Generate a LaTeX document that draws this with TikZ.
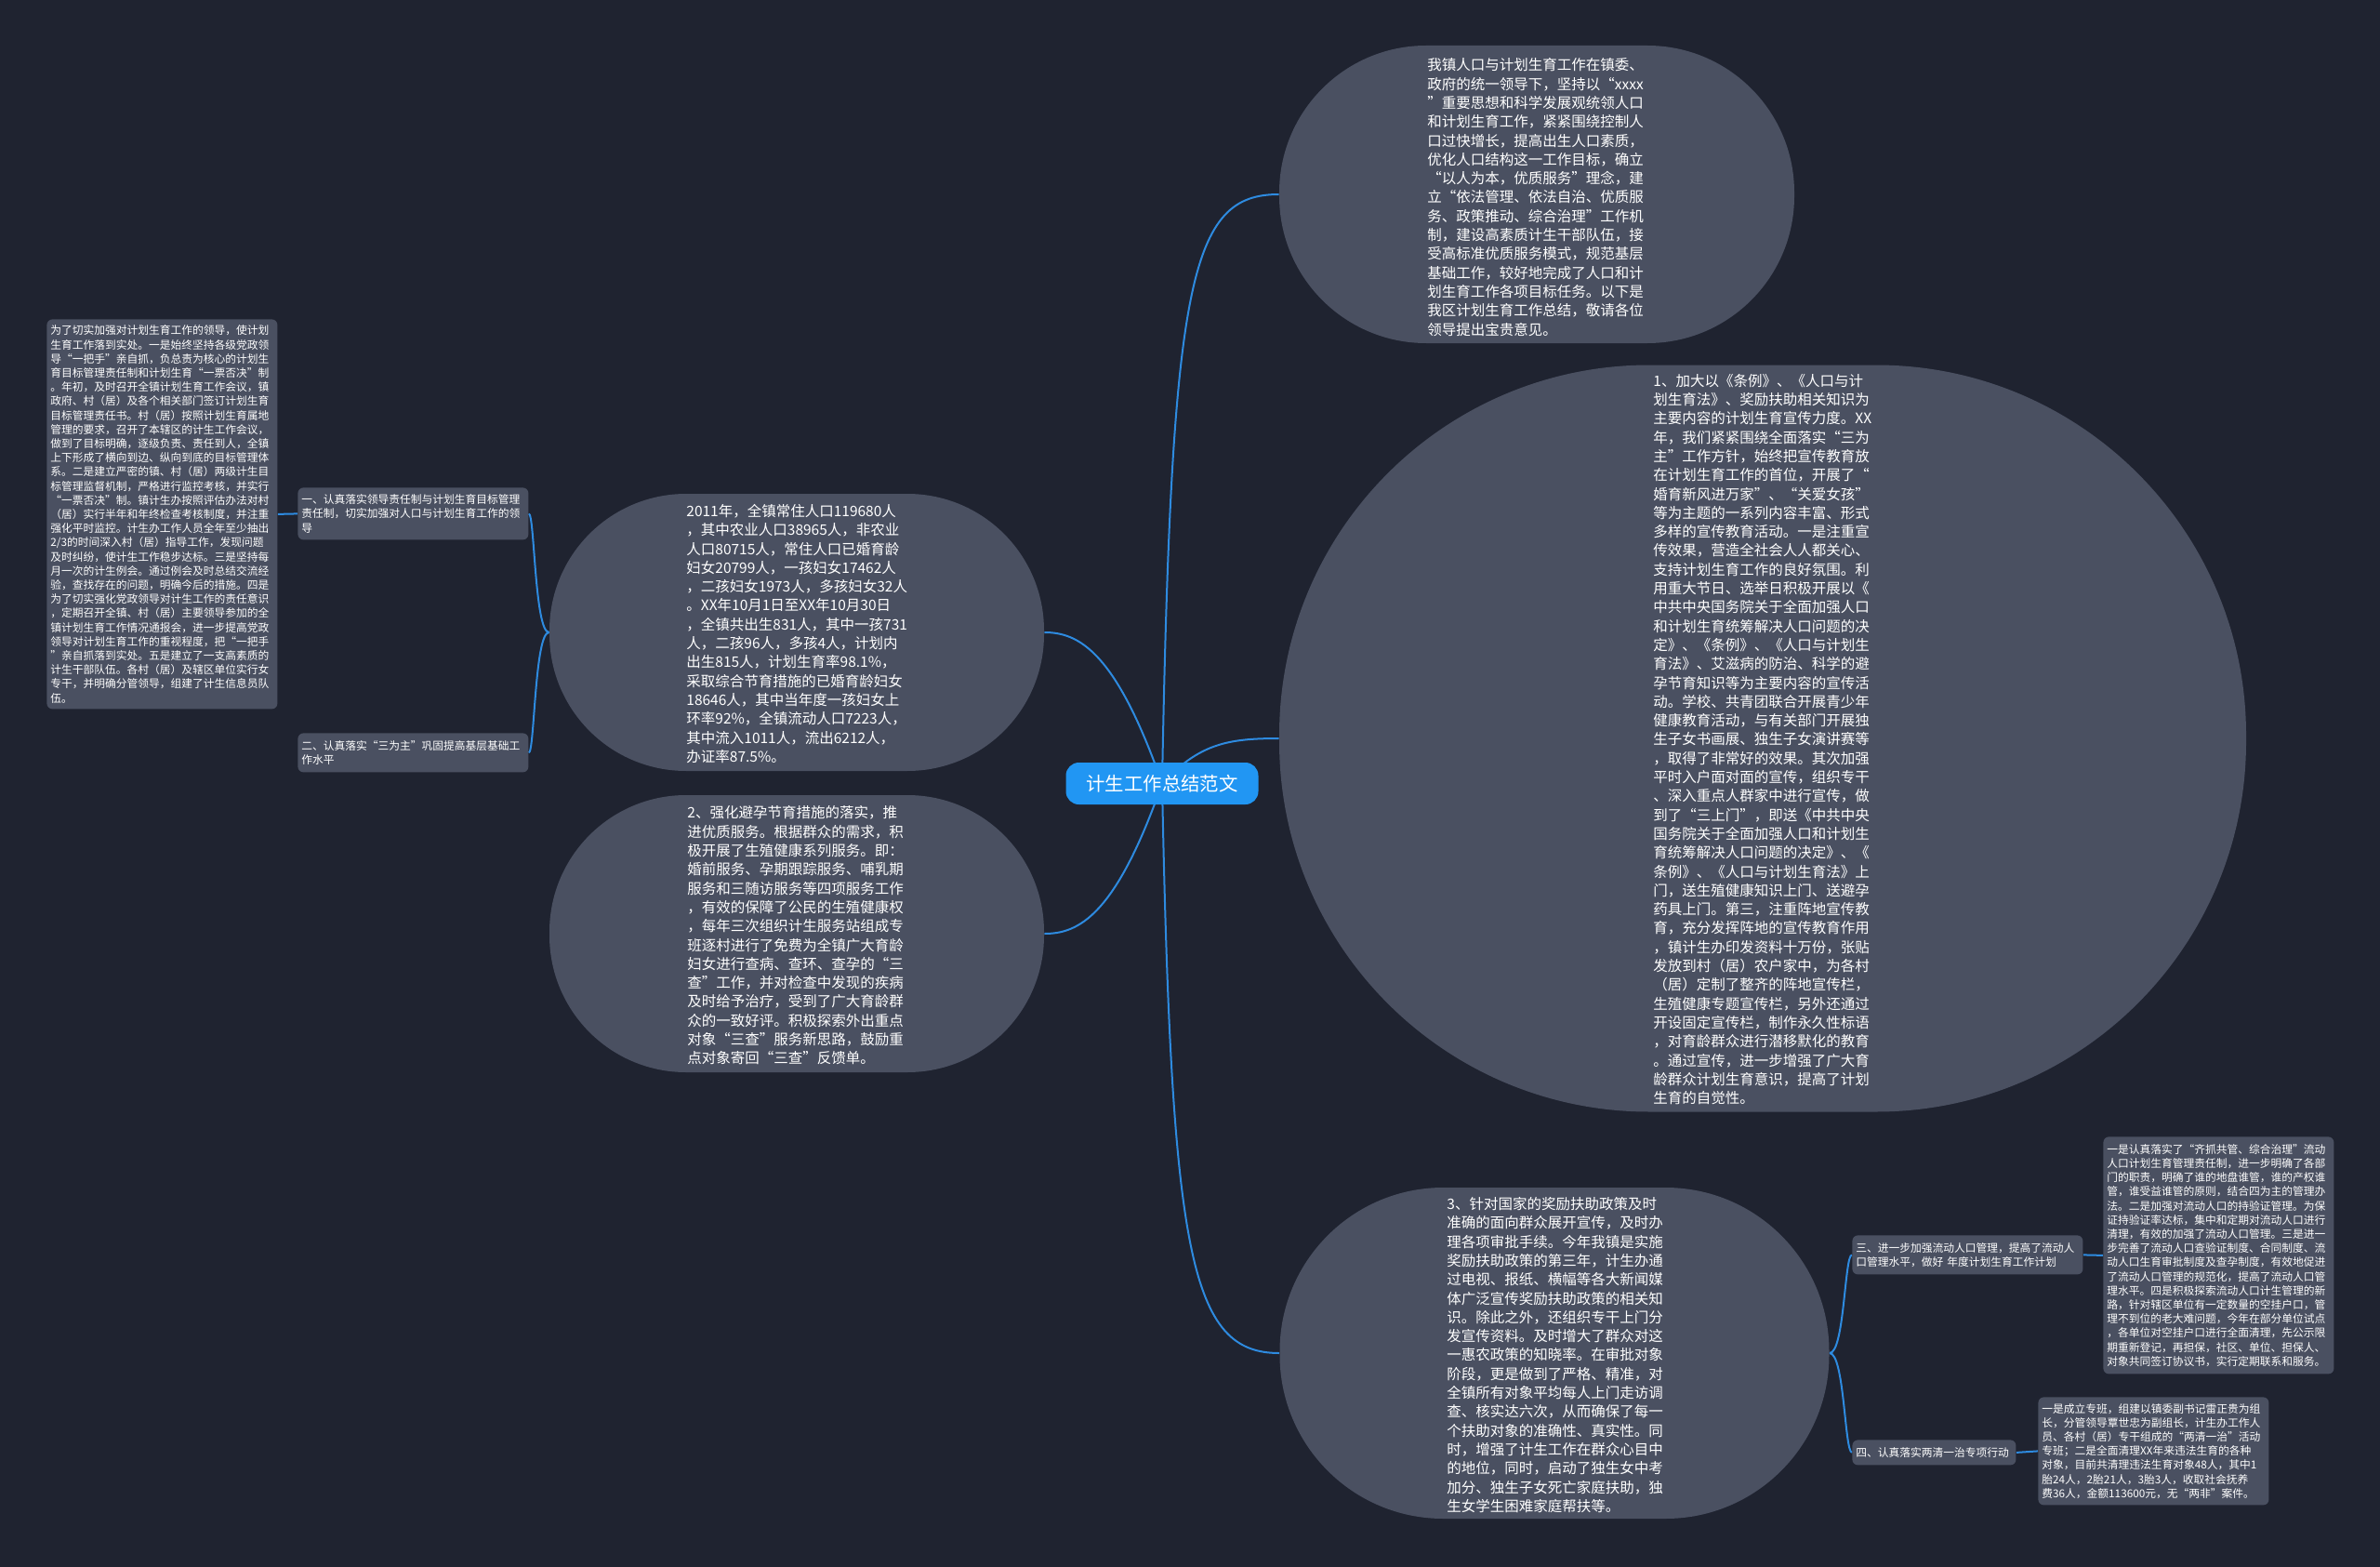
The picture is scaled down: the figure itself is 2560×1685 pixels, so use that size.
\documentclass[tikz,border=0pt]{standalone}
\usepackage{fontspec}
\setmainfont{Noto Sans CJK SC}
\definecolor{bgc}{HTML}{1F2330}
\definecolor{nodec}{HTML}{4A5061}
\definecolor{linec}{HTML}{2E8BE0}
\definecolor{centc}{HTML}{2196F3}
\pgfdeclarelayer{bglayer}
\pgfdeclarelayer{edgelayer}
\pgfsetlayers{bglayer,edgelayer,main}
\tikzset{
  bubble/.style={rectangle, fill=nodec, draw=none, inner sep=0pt},
  bigtext/.style={text=white, align=left, inner sep=0pt, font=\fontsize{7.75pt}{10.15pt}\selectfont},
  smallbox/.style={rectangle, rounded corners=3pt, fill=nodec, text=white, align=left, inner xsep=2pt, inner ysep=1pt, font=\fontsize{5.875pt}{7.6pt}\selectfont, text width=120pt},
  centre/.style={rectangle, rounded corners=7pt, fill=centc, text=white, inner sep=0pt, minimum width=103.5pt, minimum height=22.5pt, font=\fontsize{10.2pt}{12pt}\selectfont},
  link/.style={draw=linec, line width=1pt},
}
\begin{document}
\begin{tikzpicture}[x=0.5pt,y=-0.5pt]
\begin{pgfonlayer}{bglayer}
\fill[bgc] (0,0) rectangle (2560,1685);
\end{pgfonlayer}
\useasboundingbox (0,0) rectangle (2560,1685);

\node[centre] (root) at (1250,842.5) {计生工作总结范文};

% bubbles
\node[bubble, rounded corners=79pt, minimum width=277pt, minimum height=160pt] (introbub) at (1653,209) {};
\node[bubble, rounded corners=199pt, minimum width=520pt, minimum height=401.5pt] (bigbub) at (1896,794) {};
\node[bubble, rounded corners=73.5pt, minimum width=266pt, minimum height=149pt] (statsbub) at (857,680) {};
\node[bubble, rounded corners=73.5pt, minimum width=266pt, minimum height=149pt] (avoidbub) at (857,1004) {};
\node[bubble, rounded corners=88pt, minimum width=295.5pt, minimum height=178pt] (subbub) at (1672,1455) {};

\node[bigtext, anchor=west] (intro) at (1535,212) {我镇人口与计划生育工作在镇委、\\政府的统一领导下，坚持以“xxxx\\”重要思想和科学发展观统领人口\\和计划生育工作，紧紧围绕控制人\\口过快增长，提高出生人口素质，\\优化人口结构这一工作目标，确立\\“以人为本，优质服务”理念，建\\立“依法管理、依法自治、优质服\\务、政策推动、综合治理”工作机\\制，建设高素质计生干部队伍，接\\受高标准优质服务模式，规范基层\\基础工作，较好地完成了人口和计\\划生育工作各项目标任务。以下是\\我区计划生育工作总结，敬请各位\\领导提出宝贵意见。};

\node[bigtext, anchor=west] (big) at (1778,795) {1、加大以《条例》、《人口与计\\划生育法》、奖励扶助相关知识为\\主要内容的计划生育宣传力度。XX\\年，我们紧紧围绕全面落实“三为\\主”工作方针，始终把宣传教育放\\在计划生育工作的首位，开展了“\\婚育新风进万家”、“关爱女孩”\\等为主题的一系列内容丰富、形式\\多样的宣传教育活动。一是注重宣\\传效果，营造全社会人人都关心、\\支持计划生育工作的良好氛围。利\\用重大节日、选举日积极开展以《\\中共中央国务院关于全面加强人口\\和计划生育统筹解决人口问题的决\\定》、《条例》、《人口与计划生\\育法》、艾滋病的防治、科学的避\\孕节育知识等为主要内容的宣传活\\动。学校、共青团联合开展青少年\\健康教育活动，与有关部门开展独\\生子女书画展、独生子女演讲赛等\\，取得了非常好的效果。其次加强\\平时入户面对面的宣传，组织专干\\、深入重点人群家中进行宣传，做\\到了“三上门”，即送《中共中央\\国务院关于全面加强人口和计划生\\育统筹解决人口问题的决定》、《\\条例》、《人口与计划生育法》上\\门，送生殖健康知识上门、送避孕\\药具上门。第三，注重阵地宣传教\\育，充分发挥阵地的宣传教育作用\\，镇计生办印发资料十万份，张贴\\发放到村（居）农户家中，为各村\\（居）定制了整齐的阵地宣传栏，\\生殖健康专题宣传栏，另外还通过\\开设固定宣传栏，制作永久性标语\\，对育龄群众进行潜移默化的教育\\。通过宣传，进一步增强了广大育\\龄群众计划生育意识，提高了计划\\生育的自觉性。};

\node[bigtext, anchor=west] (stats) at (738,681.5) {2011年，全镇常住人口119680人\\，其中农业人口38965人，非农业\\人口80715人，常住人口已婚育龄\\妇女20799人，一孩妇女17462人\\，二孩妇女1973人，多孩妇女32人\\。XX年10月1日至XX年10月30日\\，全镇共出生831人，其中一孩731\\人，二孩96人，多孩4人，计划内\\出生815人，计划生育率98.1\%，\\采取综合节育措施的已婚育龄妇女\\18646人，其中当年度一孩妇女上\\环率92\%，全镇流动人口7223人，\\其中流入1011人，流出6212人，\\办证率87.5\%。};

\node[bigtext, anchor=west] (avoid) at (739,1006) {2、强化避孕节育措施的落实，推\\进优质服务。根据群众的需求，积\\极开展了生殖健康系列服务。即：\\婚前服务、孕期跟踪服务、哺乳期\\服务和三随访服务等四项服务工作\\，有效的保障了公民的生殖健康权\\，每年三次组织计生服务站组成专\\班逐村进行了免费为全镇广大育龄\\妇女进行查病、查环、查孕的“三\\查”工作，并对检查中发现的疾病\\及时给予治疗，受到了广大育龄群\\众的一致好评。积极探索外出重点\\对象“三查”服务新思路，鼓励重\\点对象寄回“三查”反馈单。};

\node[bigtext, anchor=west] (subsidy) at (1556,1457) {3、针对国家的奖励扶助政策及时\\准确的面向群众展开宣传，及时办\\理各项审批手续。今年我镇是实施\\奖励扶助政策的第三年，计生办通\\过电视、报纸、横幅等各大新闻媒\\体广泛宣传奖励扶助政策的相关知\\识。除此之外，还组织专干上门分\\发宣传资料。及时增大了群众对这\\一惠农政策的知晓率。在审批对象\\阶段，更是做到了严格、精准，对\\全镇所有对象平均每人上门走访调\\查、核实达六次，从而确保了每一\\个扶助对象的准确性、真实性。同\\时，增强了计生工作在群众心目中\\的地位，同时，启动了独生女中考\\加分、独生子女死亡家庭扶助，独\\生女学生困难家庭帮扶等。};

% small boxes
\node[smallbox, anchor=north west, minimum height=209.5pt] (leftblock) at (50,343) {为了切实加强对计划生育工作的领导，使计划\\生育工作落到实处。一是始终坚持各级党政领\\导“一把手”亲自抓，负总责为核心的计划生\\育目标管理责任制和计划生育“一票否决”制\\。年初，及时召开全镇计划生育工作会议，镇\\政府、村（居）及各个相关部门签订计划生育\\目标管理责任书。村（居）按照计划生育属地\\管理的要求，召开了本辖区的计生工作会议，\\做到了目标明确，逐级负责、责任到人，全镇\\上下形成了横向到边、纵向到底的目标管理体\\系。二是建立严密的镇、村（居）两级计生目\\标管理监督机制，严格进行监控考核，并实行\\“一票否决”制。镇计生办按照评估办法对村\\（居）实行半年和年终检查考核制度，并注重\\强化平时监控。计生办工作人员全年至少抽出\\2/3的时间深入村（居）指导工作，发现问题\\及时纠纷，使计生工作稳步达标。三是坚持每\\月一次的计生例会。通过例会及时总结交流经\\验，查找存在的问题，明确今后的措施。四是\\为了切实强化党政领导对计生工作的责任意识\\，定期召开全镇、村（居）主要领导参加的全\\镇计划生育工作情况通报会，进一步提高党政\\领导对计划生育工作的重视程度，把“一把手\\”亲自抓落到实处。五是建立了一支高素质的\\计生干部队伍。各村（居）及辖区单位实行女\\专干，并明确分管领导，组建了计生信息员队\\伍。};

\node[smallbox, anchor=north west, minimum height=28pt] (lab1) at (320,524) {一、认真落实领导责任制与计划生育目标管理\\责任制，切实加强对人口与计划生育工作的领\\导};
\node[smallbox, anchor=north west, minimum height=21pt] (lab2) at (320,788) {二、认真落实“三为主”巩固提高基层基础工\\作水平};
\node[smallbox, anchor=north west, minimum height=21pt] (lab3) at (1992,1328) {三、进一步加强流动人口管理，提高了流动人\\口管理水平，做好 年度计划生育工作计划};
\node[smallbox, anchor=north west, minimum height=13.5pt, text width=84pt] (lab4) at (1992,1548) {四、认真落实两清一治专项行动};
\node[smallbox, anchor=north west, minimum height=127.5pt] (rblock1) at (2262,1222) {一是认真落实了“齐抓共管、综合治理”流动\\人口计划生育管理责任制，进一步明确了各部\\门的职责，明确了谁的地盘谁管，谁的产权谁\\管，谁受益谁管的原则，结合四为主的管理办\\法。二是加强对流动人口的持验证管理。为保\\证持验证率达标，集中和定期对流动人口进行\\清理，有效的加强了流动人口管理。三是进一\\步完善了流动人口查验证制度、合同制度、流\\动人口生育审批制度及查孕制度，有效地促进\\了流动人口管理的规范化，提高了流动人口管\\理水平。四是积极探索流动人口计生管理的新\\路，针对辖区单位有一定数量的空挂户口，管\\理不到位的老大难问题，今年在部分单位试点\\，各单位对空挂户口进行全面清理，先公示限\\期重新登记，再担保，社区、单位、担保人、\\对象共同签订协议书，实行定期联系和服务。};
\node[smallbox, anchor=north west, minimum height=58pt] (rblock2) at (2192,1502) {一是成立专班，组建以镇委副书记雷正贵为组\\长，分管领导覃世忠为副组长，计生办工作人\\员、各村（居）专干组成的“两清一治”活动\\专班；二是全面清理XX年来违法生育的各种\\对象，目前共清理违法生育对象48人，其中1\\胎24人，2胎21人，3胎3人，收取社会抚养\\费36人，金额113600元，无“两非”案件。};

% connectors
\begin{pgfonlayer}{edgelayer}
\draw[link] (root.center) .. controls (1200,700) and (1160,680) .. (statsbub.east);
\draw[link] (root.center) .. controls (1200,985) and (1160,1004) .. (avoidbub.east);
\draw[link] (root.center) .. controls (1260,300) and (1280,209) .. (introbub.west);
\draw[link] (root.center) .. controls (1290,800) and (1320,794) .. (bigbub.west);
\draw[link] (root.center) .. controls (1260,1350) and (1280,1455) .. (subbub.west);
\draw[link] (statsbub.west) .. controls (575,680) and (575,552) .. (lab1.east);
\draw[link] (statsbub.west) .. controls (575,680) and (575,809) .. (lab2.east);
\draw[link] (leftblock.east) -- (lab1.west);
\draw[link] (subbub.east) .. controls (1984,1455) and (1984,1349) .. (lab3.west);
\draw[link] (subbub.east) .. controls (1984,1455) and (1984,1561) .. (lab4.west);
\draw[link] (lab3.east) -- (rblock1.west);
\draw[link] (lab4.east) -- (rblock2.west);
\end{pgfonlayer}
\end{tikzpicture}
\end{document}
